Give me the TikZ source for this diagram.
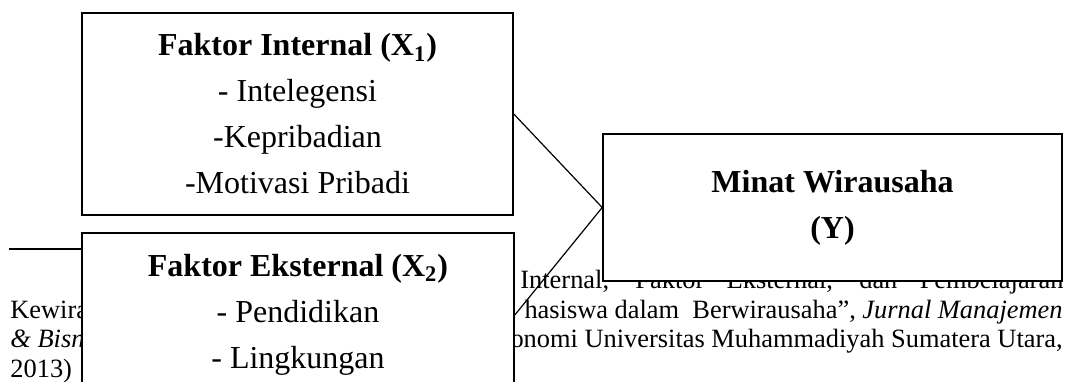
\documentclass[tikz,border=0pt]{standalone}
\usepackage{fontspec}
\setmainfont{Liberation Serif}
\usepackage{tikz}

\begin{document}
\begin{tikzpicture}[x=0.5pt, y=-0.5pt,
	box/.style={draw, fill=white, line width=0.8pt, inner sep=0pt, align=center,
		font=\fontsize{16}{23}\selectfont},
	note/.style={inner sep=0pt, font=\fontsize{13.2}{15}\selectfont}]
	
	\useasboundingbox (0,0) rectangle (1074,381);
	\clip (0,0) rectangle (1074,381);
	
	\draw [line width=0.6pt] (9,249) -- (90,249);
	\node [note, anchor=base west] (kewira) at (10,318) {Kewira};
	\node [note, anchor=base west] (bisn) at (10,347) {\textit{\& Bisn}};
	\node [note, anchor=base west] (tahun) at (10,377) {2013)};
	\node [note, anchor=base west] (baris1) at (520,288) {\makebox[271.5pt][s]{Internal, Faktor Eksternal, dan Pembelajaran}};
	\node [note, anchor=base east] (baris2) at (1063,318) {hasiswa dalam\ \ Berwirausaha'', \textit{Jurnal Manajemen}};
	\node [note, anchor=base east] (baris3) at (1063,347) {onomi Universitas Muhammadiyah Sumatera Utara,};
	
	\node [box, minimum width=215.5pt, minimum height=101pt] (internal) at (297.5,114)
		{\textbf{Faktor Internal (X\textsubscript{1})}\\- Intelegensi\\-Kepribadian\\-Motivasi Pribadi};
	\node [box, minimum width=216pt, minimum height=82pt] (eksternal) at (298,315)
		{\textbf{Faktor Eksternal (X\textsubscript{2})}\\- Pendidikan\\- Lingkungan};
	\node [box, minimum width=229.5pt, minimum height=73.5pt] (minat) at (832.5,207.5)
		{\textbf{Minat Wirausaha}\\\textbf{(Y)}};
	
	\draw [line width=0.6pt] (internal.east) -- (minat.west) -- (eksternal.east);
\end{tikzpicture}
\end{document}
